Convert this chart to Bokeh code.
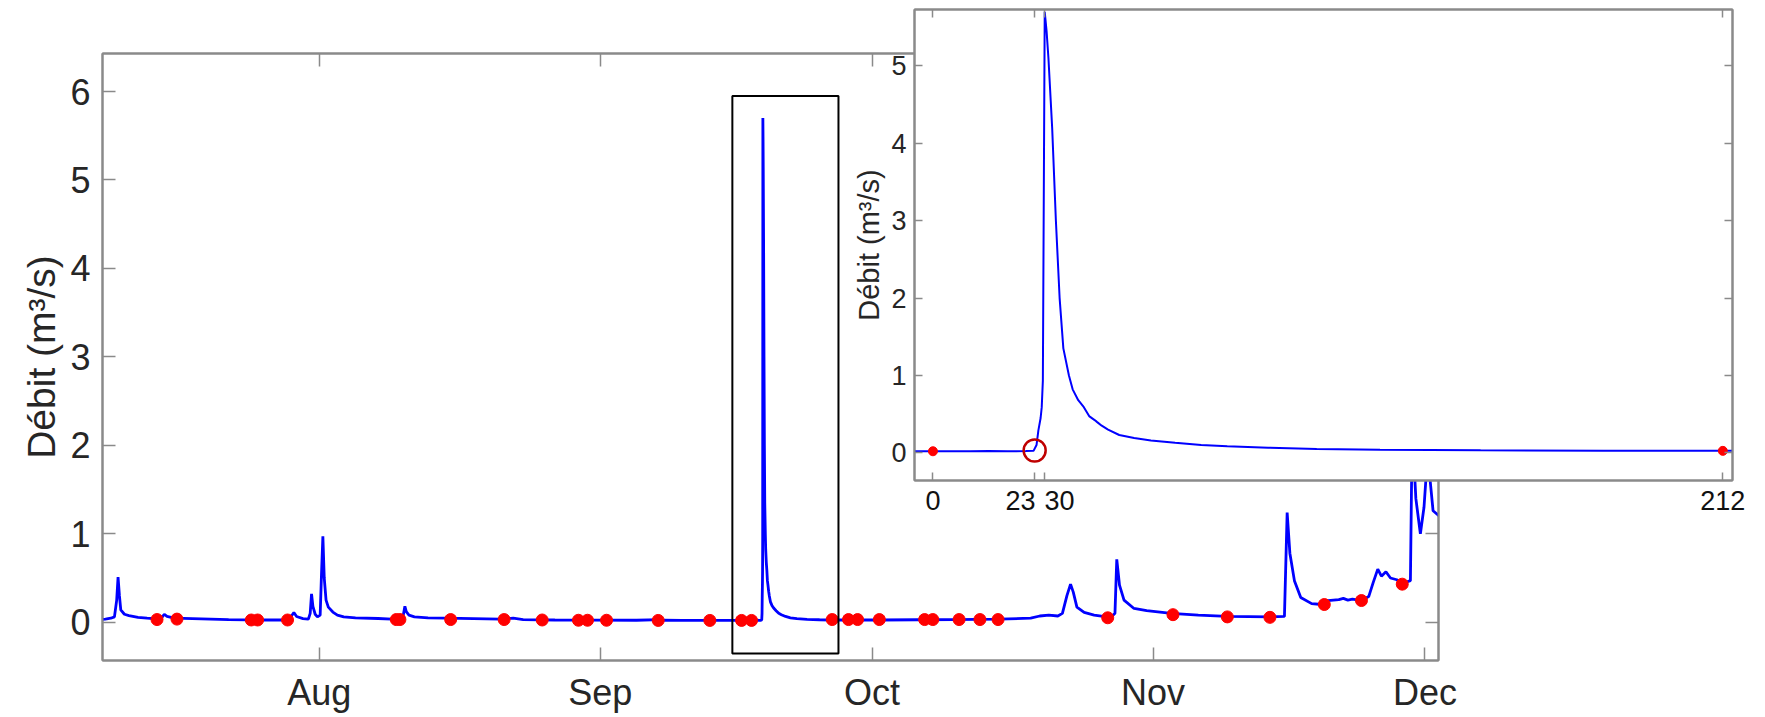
import pandas as pd
from bokeh.plotting import figure
from bokeh.models import (Range1d, FixedTicker, DatetimeTickFormatter, LinearAxis,
                          DatetimeAxis, Column)
from bokeh.embed import file_html
from bokeh.resources import INLINE

# ---------------- data ----------------
base_date = "2019-08-01"          # day 0 of the "day" arrays below

# flow before the big September event (days since Aug 1, m3/s)
pre_day = [-24.2, -23.6, -23.0, -22.6, -22.35, -22.2, -22.05, -21.9, -21.5, -21.0,
           -20.0, -19.0, -18.0, -17.4, -17.1, -16.8, -16.0, -14.0, -12.0, -10.0,
           -8.0, -6.0, -4.0, -3.2, -2.8, -2.5, -1.8, -1.2, -1.0, -0.85,
           -0.7, -0.45, -0.2, 0.1, 0.25, 0.4, 0.55, 0.75, 1.0, 1.5,
           2.0, 2.7, 4.0, 6.5, 8.0, 9.2, 9.45, 9.6, 9.9, 10.5,
           12.0, 14.0, 17.0, 20.0, 21.4, 22.5, 26.0, 30.0, 35.0, 37.6,
           38.0, 40.0, 45.0]
pre_value = [0.030, 0.035, 0.045, 0.06, 0.25, 0.51, 0.30, 0.14, 0.09, 0.075,
             0.055, 0.045, 0.038, 0.05, 0.09, 0.065, 0.045, 0.04, 0.035, 0.03,
             0.027, 0.025, 0.025, 0.05, 0.11, 0.065, 0.04, 0.035, 0.10, 0.32,
             0.18, 0.09, 0.06, 0.08, 0.55, 0.97, 0.50, 0.25, 0.17, 0.115,
             0.08, 0.06, 0.05, 0.042, 0.035, 0.04, 0.18, 0.12, 0.08, 0.06,
             0.05, 0.045, 0.04, 0.035, 0.045, 0.03, 0.025, 0.024, 0.022, 0.03,
             0.022, 0.02, 0.02]

# the September storm, in hours since the sample taken just before it
storm_start_day = 47.7
storm_hour = [-5.0, 0.0, 5.0, 10.0, 15.0, 20.0, 25.0, 27.0, 27.8, 28.3,
              28.9, 29.2, 29.5, 30.0, 30.5, 31.0, 32.0, 33.0, 34.0, 35.0,
              36.5, 37.5, 39.0, 40.5, 42.0, 43.5, 44.0, 45.3, 47.0, 50.0,
              54.0, 58.5, 65.0, 72.0, 79.0, 90.0, 103.0, 120.0, 147.0, 180.0,
              212.0, 214.6]
storm_flow = [0.02, 0.02, 0.021, 0.02, 0.022, 0.021, 0.022, 0.025, 0.10, 0.29,
              0.45, 0.59, 0.93, 5.70, 5.45, 5.10, 4.20, 3.00, 2.00, 1.35,
              1.00, 0.82, 0.68, 0.59, 0.47, 0.42, 0.40, 0.35, 0.30, 0.23,
              0.19, 0.16, 0.13, 0.10, 0.085, 0.065, 0.05, 0.04, 0.033, 0.028,
              0.025, 0.025]

# flow after the storm (days since Aug 1)
post_day = [58.0, 62.0, 66.0, 70.0, 75.0, 78.5, 79.5, 80.5, 81.5, 82.0,
            82.5, 82.9, 83.2, 83.6, 84.4, 85.5, 86.5, 87.4, 87.8, 88.0,
            88.3, 88.8, 89.9, 91.3, 94.0, 97.0, 100.2, 104.9, 106.5, 106.8,
            107.1, 107.6, 108.3, 109.5, 110.6, 111.3, 112.5, 113.0, 113.5, 114.0,
            115.0, 115.8, 116.3, 116.8, 117.2, 117.7, 118.2, 118.9, 119.6, 120.4,
            120.6, 121.0, 121.5, 121.9, 122.3, 122.9, 123.6]
post_value = [0.025, 0.025, 0.028, 0.03, 0.035, 0.045, 0.07, 0.08, 0.07, 0.10,
              0.30, 0.43, 0.34, 0.17, 0.11, 0.08, 0.065, 0.06, 0.10, 0.71,
              0.42, 0.25, 0.155, 0.13, 0.10, 0.08, 0.065, 0.06, 0.065, 1.24,
              0.78, 0.47, 0.28, 0.21, 0.20, 0.245, 0.255, 0.27, 0.25, 0.26,
              0.245, 0.29, 0.45, 0.60, 0.52, 0.57, 0.50, 0.48, 0.44, 0.47,
              2.20, 1.40, 1.00, 1.30, 1.90, 1.26, 1.20]

# sampling times (red dots), days since Aug 1
sample_day = [-17.9, -15.7, -7.5, -6.8, -3.5, 8.5, 8.9, 14.5, 20.4, 24.6,
              28.6, 29.6, 31.7, 37.4, 43.1, 46.6, 47.7, 56.6, 58.4, 59.4,
              61.8, 66.8, 67.7, 70.6, 72.9, 74.9, 87.0, 94.2, 100.2, 104.9,
              110.9, 115.0, 119.5]
sample_value = [0.03, 0.035, 0.025, 0.025, 0.025, 0.03, 0.03, 0.03, 0.03, 0.025,
                0.022, 0.022, 0.022, 0.02, 0.02, 0.02, 0.02, 0.03, 0.03, 0.03,
                0.03, 0.03, 0.03, 0.03, 0.03, 0.03, 0.05, 0.085, 0.06, 0.055,
                0.20, 0.245, 0.43]

# inset: samples bounding the storm and flood onset (hours)
inset_sample_hour = [0, 212]
inset_sample_value = [0.02, 0.025]
onset_hour = [27.3]
onset_value = [0.03]

month_ticks = ["2019-08-01", "2019-09-01", "2019-10-01", "2019-11-01", "2019-12-01"]
main_y_ticks = [0, 1, 2, 3, 4, 5, 6]
inset_tick_pos = [0, 27.3, 30, 212]          # tick marks
inset_label_pos = [0, 23.5, 34.0, 212]       # where the tick labels sit
inset_tick_labels = ["0", "23", "30", "212"]
inset_y_ticks = [0, 1, 2, 3, 4, 5]

# zoom window drawn on the main chart
box_start, box_end = "2019-09-15 14:00", "2019-09-27 07:00"
box_bottom, box_top = -0.354, 5.95

main_x_start, main_x_end = "2019-07-08 02:00", "2019-12-02 12:00"
main_y_range = (-0.433, 6.43)
inset_x_range = (-4.95, 214.6)
inset_y_range = (-0.358, 5.73)

# ---------------- styling ----------------
FONT = "Liberation Sans"
GRAY = "#8a8a8a"
TXT = "#262626"

base = pd.Timestamp(base_date)


def to_dt(days):
    return [base + pd.to_timedelta(d, unit="D") for d in days]


all_day = pre_day + [storm_start_day + h / 24.0 for h in storm_hour] + post_day
all_value = pre_value + storm_flow + post_value

p = figure(width=1765, height=717, x_axis_type="datetime",
           x_range=Range1d(pd.Timestamp(main_x_start), pd.Timestamp(main_x_end)),
           y_range=Range1d(*main_y_range),
           output_backend="svg", toolbar_location=None,
           min_border_left=102, min_border_right=327, min_border_top=53, min_border_bottom=57)
p.frame_align = False
p.xgrid.visible = False
p.ygrid.visible = False
p.outline_line_color = GRAY
p.outline_line_width = 2
p.background_fill_color = "white"
p.border_fill_color = "white"

p.line(x=to_dt(all_day), y=all_value, line_color="#0000ff", line_width=2.8)
p.scatter(x=to_dt(sample_day), y=sample_value, size=12, marker="circle",
          fill_color="#ff0000", line_color="#ff0000")
p.quad(left=[pd.Timestamp(box_start)], right=[pd.Timestamp(box_end)],
       bottom=[box_bottom], top=[box_top], fill_color=None,
       line_color="black", line_width=2)

month_ms = [pd.Timestamp(m).value // 10**6 for m in month_ticks]
fmt = DatetimeTickFormatter(microseconds="%b", milliseconds="%b", seconds="%b",
                            minsec="%b", minutes="%b", hourmin="%b", hours="%b",
                            days="%b", months="%b", years="%b")


def style_axis(ax, tick_in, font_size, standoff):
    ax.axis_line_color = GRAY
    ax.axis_line_width = 2
    ax.major_tick_line_color = GRAY
    ax.major_tick_line_width = 1.5
    ax.major_tick_in = tick_in
    ax.major_tick_out = 0
    ax.minor_tick_line_color = None
    ax.major_label_text_font = FONT
    ax.major_label_text_font_size = font_size
    ax.major_label_text_color = TXT
    ax.major_label_standoff = standoff


def hide_labels(ax):
    ax.major_label_text_font_size = "1px"
    ax.major_label_standoff = 0
    ax.major_label_text_color = None


xa = p.xaxis[0]
xa.ticker = FixedTicker(ticks=month_ms)
xa.formatter = fmt
style_axis(xa, 13, "36px", 11)

ya = p.yaxis[0]
ya.ticker = FixedTicker(ticks=main_y_ticks)
style_axis(ya, 13, "36px", 12)
ya.axis_label = "Débit (m³/s)"
ya.axis_label_text_font = FONT
ya.axis_label_text_font_size = "39px"
ya.axis_label_text_font_style = "normal"
ya.axis_label_text_color = TXT
ya.axis_label_standoff = 4

top_ax = DatetimeAxis(ticker=FixedTicker(ticks=month_ms), formatter=fmt)
style_axis(top_ax, 13, "1px", 0)
hide_labels(top_ax)
p.add_layout(top_ax, "above")

right_ax = LinearAxis(ticker=FixedTicker(ticks=main_y_ticks))
style_axis(right_ax, 13, "1px", 0)
hide_labels(right_ax)
p.add_layout(right_ax, "right")

# ---------------- inset ----------------
q = figure(width=931, height=540,
           x_range=Range1d(*inset_x_range), y_range=Range1d(*inset_y_range),
           output_backend="svg", toolbar_location=None,
           min_border_left=80, min_border_right=33, min_border_top=9, min_border_bottom=60)
q.frame_align = False
q.xgrid.visible = False
q.ygrid.visible = False
q.outline_line_color = GRAY
q.outline_line_width = 2
q.background_fill_color = "white"
q.border_fill_color = None

q.line(x=storm_hour, y=storm_flow, line_color="#0000ff", line_width=2)
q.scatter(x=inset_sample_hour, y=inset_sample_value, size=9, marker="circle",
          fill_color="#ff0000", line_color="#ff0000")
q.scatter(x=onset_hour, y=onset_value, size=22, marker="circle",
          fill_color=None, line_color="#bf0000", line_width=2.5)

# bottom axis: tick marks only
qx = q.xaxis[0]
qx.ticker = FixedTicker(ticks=inset_tick_pos)
style_axis(qx, 8, "1px", 0)
hide_labels(qx)

# second bottom axis: the tick labels (no marks, no line)
qx_lab = LinearAxis(ticker=FixedTicker(ticks=inset_label_pos))
style_axis(qx_lab, 0, "27px", 10)
qx_lab.major_label_overrides = {pos: lab for pos, lab in zip(inset_label_pos, inset_tick_labels)}
qx_lab.major_tick_line_color = None
qx_lab.axis_line_color = None
qx_lab.major_label_text_color = "#111111"
q.add_layout(qx_lab, "below")

qy = q.yaxis[0]
qy.ticker = FixedTicker(ticks=inset_y_ticks)
style_axis(qy, 8, "27px", 8)
qy.axis_label = "Débit (m³/s)"
qy.axis_label_text_font = FONT
qy.axis_label_text_font_size = "29px"
qy.axis_label_text_font_style = "normal"
qy.axis_label_text_color = TXT
qy.axis_label_standoff = 3

q_top = LinearAxis(ticker=FixedTicker(ticks=inset_tick_pos))
style_axis(q_top, 8, "1px", 0)
hide_labels(q_top)
q.add_layout(q_top, "above")

q_right = LinearAxis(ticker=FixedTicker(ticks=inset_y_ticks))
style_axis(q_right, 8, "1px", 0)
hide_labels(q_right)
q.add_layout(q_right, "right")

# overlay the inset on the main chart (top-left corner of inset canvas at x=834, y=0)
q.margin = (-717, 0, 0, 834)
layout = Column(children=[p, q], spacing=0)

open("out.html", "w").write(file_html(layout, INLINE))
